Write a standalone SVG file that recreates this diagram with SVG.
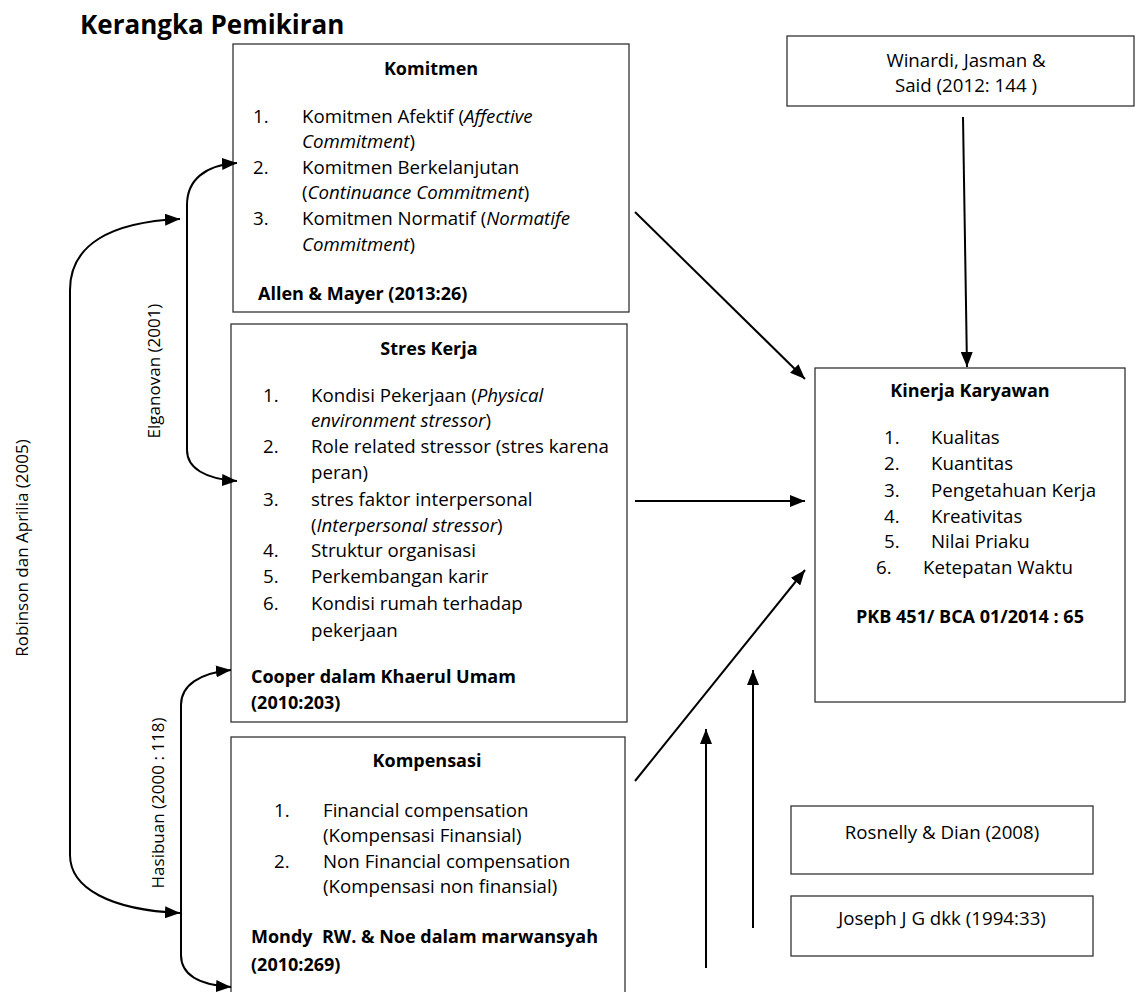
<svg xmlns="http://www.w3.org/2000/svg" width="1136" height="992" viewBox="0 0 1136 992">
<style>
.box{fill:#fff;stroke:#333;stroke-width:1.3}
.t{font-family:"Open Sans","Noto Sans",sans-serif;font-size:18.7px;fill:#000}
.b{font-weight:bold;font-size:18px}
.c{text-anchor:middle}
.i{font-style:italic}
.rot{font-family:"Open Sans","Noto Sans",sans-serif;font-size:17px;fill:#000;text-anchor:middle}
.ln{fill:none;stroke:#000;stroke-width:2}
</style>
<defs>
<marker id="ah" viewBox="0 0 15 12" refX="15" refY="6" markerWidth="15" markerHeight="12" markerUnits="userSpaceOnUse" orient="auto-start-reverse">
<path d="M0,0 L15,6 L0,12 z" fill="#000"/>
</marker>
</defs>
<rect width="1136" height="992" fill="#fff"/>
<text x="80" y="34" class="t b" style="font-size:26px">Kerangka Pemikiran</text>

<g id="komitmen">
<rect class="box" x="233" y="44" width="396" height="268"/>
<text x="431" y="75" class="t b c">Komitmen</text>
<text x="253" y="123" class="t">1.</text>
<text x="302" y="123" class="t">Komitmen Afektif (<tspan class="i">Affective</tspan></text>
<text x="302" y="148" class="t"><tspan class="i">Commitment</tspan>)</text>
<text x="253" y="174" class="t">2.</text>
<text x="302" y="174" class="t">Komitmen Berkelanjutan</text>
<text x="302" y="199" class="t">(<tspan class="i">Continuance Commitment</tspan>)</text>
<text x="253" y="225" class="t">3.</text>
<text x="302" y="225" class="t">Komitmen Normatif (<tspan class="i">Normatife</tspan></text>
<text x="302" y="251" class="t"><tspan class="i">Commitment</tspan>)</text>
<text x="258" y="300" class="t b">Allen &amp; Mayer (2013:26)</text>
</g>

<g id="stres">
<rect class="box" x="231" y="324" width="396" height="398"/>
<text x="429" y="355" class="t b c">Stres Kerja</text>
<text x="263" y="402" class="t">1.</text>
<text x="311" y="402" class="t">Kondisi Pekerjaan (<tspan class="i">Physical</tspan></text>
<text x="311" y="427" class="t"><tspan class="i">environment stressor</tspan>)</text>
<text x="263" y="453" class="t">2.</text>
<text x="311" y="453" class="t">Role related stressor (stres karena</text>
<text x="311" y="479" class="t">peran)</text>
<text x="263" y="506" class="t">3.</text>
<text x="311" y="506" class="t">stres faktor interpersonal</text>
<text x="311" y="532" class="t">(<tspan class="i">Interpersonal stressor</tspan>)</text>
<text x="263" y="557" class="t">4.</text>
<text x="311" y="557" class="t">Struktur organisasi</text>
<text x="263" y="583" class="t">5.</text>
<text x="311" y="583" class="t">Perkembangan karir</text>
<text x="263" y="610" class="t">6.</text>
<text x="311" y="610" class="t">Kondisi rumah terhadap</text>
<text x="311" y="637" class="t">pekerjaan</text>
<text x="251" y="683" class="t b">Cooper dalam Khaerul Umam</text>
<text x="251" y="709" class="t b">(2010:203)</text>
</g>

<g id="kompensasi">
<rect class="box" x="231" y="737" width="394" height="270"/>
<text x="427" y="767" class="t b c">Kompensasi</text>
<text x="274" y="817" class="t">1.</text>
<text x="323" y="817" class="t">Financial compensation</text>
<text x="323" y="842" class="t">(Kompensasi Finansial)</text>
<text x="274" y="868" class="t">2.</text>
<text x="323" y="868" class="t">Non Financial compensation</text>
<text x="323" y="893" class="t">(Kompensasi non finansial)</text>
<text x="251" y="943" class="t b" style="white-space:pre">Mondy  RW. &amp; Noe dalam marwansyah</text>
<text x="251" y="971" class="t b">(2010:269)</text>
</g>

<g id="winardi">
<rect class="box" x="787" y="36" width="347" height="70"/>
<text x="966" y="67" class="t c">Winardi, Jasman &amp;</text>
<text x="966" y="92" class="t c">Said (2012: 144 )</text>
</g>

<g id="kinerja">
<rect class="box" x="815" y="368" width="310" height="334"/>
<text x="970" y="397" class="t b c">Kinerja Karyawan</text>
<text x="884" y="444" class="t">1.</text>
<text x="931" y="444" class="t">Kualitas</text>
<text x="884" y="470" class="t">2.</text>
<text x="931" y="470" class="t">Kuantitas</text>
<text x="884" y="497" class="t">3.</text>
<text x="931" y="497" class="t">Pengetahuan Kerja</text>
<text x="884" y="523" class="t">4.</text>
<text x="931" y="523" class="t">Kreativitas</text>
<text x="884" y="548" class="t">5.</text>
<text x="931" y="548" class="t">Nilai Priaku</text>
<text x="876" y="574" class="t">6.</text>
<text x="923" y="574" class="t">Ketepatan Waktu</text>
<text x="970" y="623" class="t b c">PKB 451/ BCA 01/2014 : 65</text>
</g>

<g id="rosnelly">
<rect class="box" x="791" y="806" width="302" height="68"/>
<text x="942" y="839" class="t c">Rosnelly &amp; Dian (2008)</text>
</g>

<g id="joseph">
<rect class="box" x="791" y="896" width="302" height="60"/>
<text x="942" y="925" class="t c">Joseph J G dkk (1994:33)</text>
</g>

<g id="labels">
<text class="rot" transform="translate(22,548) rotate(-90)" y="6">Robinson dan Aprilia (2005)</text>
<text class="rot" transform="translate(154,371) rotate(-90)" y="6">Elganovan (2001)</text>
<text class="rot" transform="translate(158,803) rotate(-90)" y="6">Hasibuan (2000 : 118)</text>
</g>

<g id="connectors">
<path class="ln" marker-start="url(#ah)" marker-end="url(#ah)" d="M237,163 C205,165 187,180 187,205 L187,450 C187,468 205,479 237,481"/>
<path class="ln" marker-start="url(#ah)" marker-end="url(#ah)" d="M180,219 C110,222 70,245 70,290 L70,855 C70,888 110,910 180,913"/>
<path class="ln" marker-start="url(#ah)" marker-end="url(#ah)" d="M231,670 C200,673 181,685 181,705 L181,955 C181,975 200,985 231,987"/>
<path class="ln" marker-end="url(#ah)" d="M635,212 L805,379"/>
<path class="ln" marker-end="url(#ah)" d="M635,501 L805,501"/>
<path class="ln" marker-end="url(#ah)" d="M635,781 L805,570"/>
<path class="ln" marker-end="url(#ah)" d="M963,117 L967,367"/>
<path class="ln" marker-end="url(#ah)" d="M706,968 L706,729"/>
<path class="ln" marker-end="url(#ah)" d="M753,928 L753,670"/>
</g>
</svg>
